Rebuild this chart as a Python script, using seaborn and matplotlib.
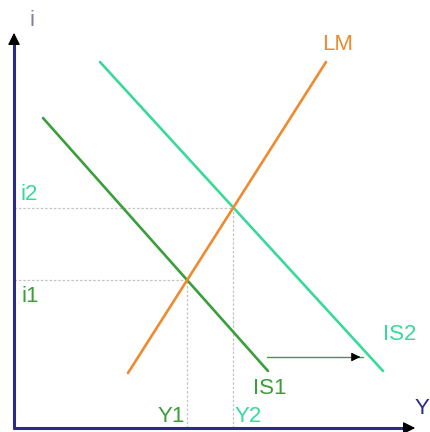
import matplotlib
matplotlib.use('Agg')
import matplotlib.pyplot as plt
import seaborn as sns
import pandas as pd

# IS-LM diagram, coordinates in "pixel-like" units from the origin
is1_y = [29, 254]
is1_i = [310, 57]
is2_y = [86, 369]
is2_i = [366, 57]
lm_y = [114, 312]
lm_i = [55, 366]

eq_y = [173, 219]     # Y1, Y2
eq_i = [148, 220]     # i1, i2
eq_names_y = ['Y1', 'Y2']
eq_names_i = ['i1', 'i2']

shift_y = [253, 349]  # arrow IS1 -> IS2
shift_i = 71

c_is1 = '#3a9e3a'
c_is2 = '#3ad99a'
c_lm = '#ee8a30'
c_axis = '#2b2b8a'
c_grid = '#c4c4c4'

sns.set_theme(style='white')
plt.rcParams['font.family'] = ['Liberation Sans', 'DejaVu Sans']

fig = plt.figure(figsize=(4.30, 4.32), dpi=100)
ax = fig.add_axes([0, 0, 1, 1])
ax.set_xlim(-14, 416)
ax.set_ylim(-4, 428)
ax.axis('off')

lines = pd.DataFrame({
    'Y': is1_y + is2_y + lm_y,
    'i': is1_i + is2_i + lm_i,
    'curve': ['IS1'] * 2 + ['IS2'] * 2 + ['LM'] * 2,
})
sns.lineplot(data=lines, x='Y', y='i', hue='curve', sort=False,
             palette={'IS1': c_is1, 'IS2': c_is2, 'LM': c_lm},
             linewidth=1.9, legend=False, ax=ax, zorder=3)

# dotted guides to the axes
for y, i in zip(eq_y, eq_i):
    ax.plot([0, y], [i, i], color=c_grid, lw=0.9, ls=(0, (2, 1.5)), zorder=1)
    ax.plot([y, y], [0, i], color=c_grid, lw=0.9, ls=(0, (2, 1.5)), zorder=1)

# axes: navy lines, black arrow heads
ax.plot([0, 0], [-1, 390], color=c_axis, lw=2.2, solid_capstyle='butt', zorder=4)
ax.plot([-1, 396], [0, 0], color=c_axis, lw=2.2, solid_capstyle='butt', zorder=4)
ax.annotate('', xy=(0, 398), xytext=(0, 383),
            arrowprops=dict(arrowstyle='-|>', color='black', lw=1,
                            mutation_scale=18), zorder=5)
ax.annotate('', xy=(404, 0), xytext=(389, 0),
            arrowprops=dict(arrowstyle='-|>', color='black', lw=1,
                            mutation_scale=18), zorder=5)

# shift arrow
ax.plot(shift_y, [shift_i, shift_i], color=c_is1, lw=1.0)
ax.annotate('', xy=(shift_y[1], shift_i), xytext=(shift_y[1] - 8, shift_i),
            arrowprops=dict(arrowstyle='-|>', color='black', lw=0.8,
                            mutation_scale=13))

fs = 16
ax.text(18, 408, 'i', color='#8080a0', fontsize=fs, ha='center', va='center')
ax.text(408, 20, 'Y', color=c_axis, fontsize=fs, ha='center', va='center')
ax.text(15, eq_i[1] + 13, eq_names_i[1], color=c_is2, fontsize=fs, ha='center', va='center')
ax.text(16, eq_i[0] - 16, eq_names_i[0], color=c_is1, fontsize=fs, ha='center', va='center')
ax.text(eq_y[0] - 16, 12, eq_names_y[0], color=c_is1, fontsize=fs, ha='center', va='center')
ax.text(eq_y[1] + 15, 12, eq_names_y[1], color=c_is2, fontsize=fs, ha='center', va='center')
ax.text(256, 39, 'IS1', color=c_is1, fontsize=fs, ha='center', va='center')
ax.text(386, 93, 'IS2', color=c_is2, fontsize=fs, ha='center', va='center')
ax.text(324, 384, 'LM', color=c_lm, fontsize=fs, ha='center', va='center')

fig.savefig('out.png', dpi=100)
